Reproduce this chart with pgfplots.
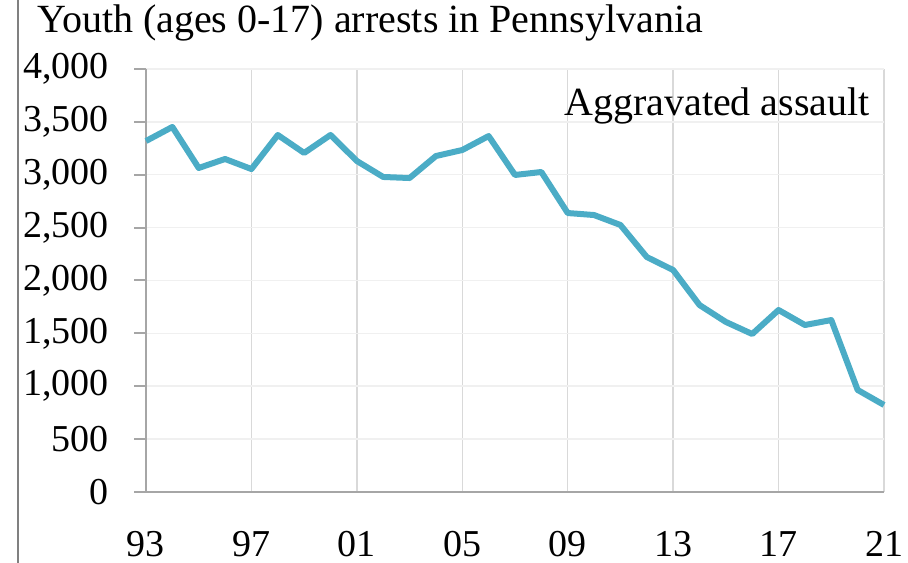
\documentclass[border=0pt]{standalone}
\usepackage{fontspec}
\setmainfont{Liberation Serif}
\usepackage{pgfplots}
\pgfplotsset{compat=1.18}
\definecolor{linec}{HTML}{4BACC6}
\definecolor{vgrid}{HTML}{D9D9D9}
\definecolor{hgrid}{HTML}{F0F0F0}
\definecolor{axc}{HTML}{A6A6A6}
\newcommand{\fs}{\fontsize{40bp}{44bp}\selectfont}
\newcommand{\fst}{\fontsize{38bp}{42bp}\selectfont}
\begin{document}
\begin{tikzpicture}
\path[use as bounding box] (-146bp,-71bp) rectangle (762bp,492bp);
\begin{axis}[at={(0,0)}, anchor=south west, scale only axis,
  width=738bp, height=423bp,
  xmin=1993, xmax=2021, ymin=0, ymax=4000,
  axis x line*=bottom, axis y line*=left,
  axis line style={axc, line width=2bp, -},
  xtick={1993,1997,2001,2005,2009,2013,2017,2021},
  xticklabels={93,97,01,05,09,13,17,21},
  ytick={0,500,...,4000},
  scaled y ticks=false,
  /pgf/number format/1000 sep={,},
  /pgf/number format/assume math mode=true,
  xmajorgrids, ymajorgrids,
  x grid style={vgrid, line width=1.5bp},
  y grid style={hgrid, line width=1.5bp},
  xtick style={draw=none},
  ytick style={axc, line width=2bp},
  tick align=outside,
  major tick length=12bp,
  yticklabel style={font=\fst, anchor=east, inner sep=0pt, xshift=-25bp},
  xticklabel style={font=\fst, anchor=north, inner sep=0pt, yshift=-27bp},
  clip=false,
]
\addplot[linec, line width=6bp, line join=round] coordinates {
(1993,3319) (1994,3452) (1995,3064) (1996,3149) (1997,3054) (1998,3376)
(1999,3206) (2000,3376) (2001,3130) (2002,2979) (2003,2969) (2004,3177)
(2005,3234) (2006,3366) (2007,2998) (2008,3026) (2009,2638) (2010,2619)
(2011,2525) (2012,2222) (2013,2099) (2014,1768) (2015,1608) (2016,1494)
(2017,1721) (2018,1579) (2019,1626) (2020,965) (2021,823)
};
\end{axis}
\draw[color=gray, line width=2bp] (-128bp,-71bp) -- (-128bp,492bp);
\node[anchor=base west, inner sep=0pt, font=\fs] at (-109bp,459bp) {Youth (ages 0-17) arrests in Pennsylvania};
\node[anchor=base east, inner sep=0pt, font=\fs] at (724bp,376bp) {Aggravated assault};
\end{tikzpicture}
\end{document}
